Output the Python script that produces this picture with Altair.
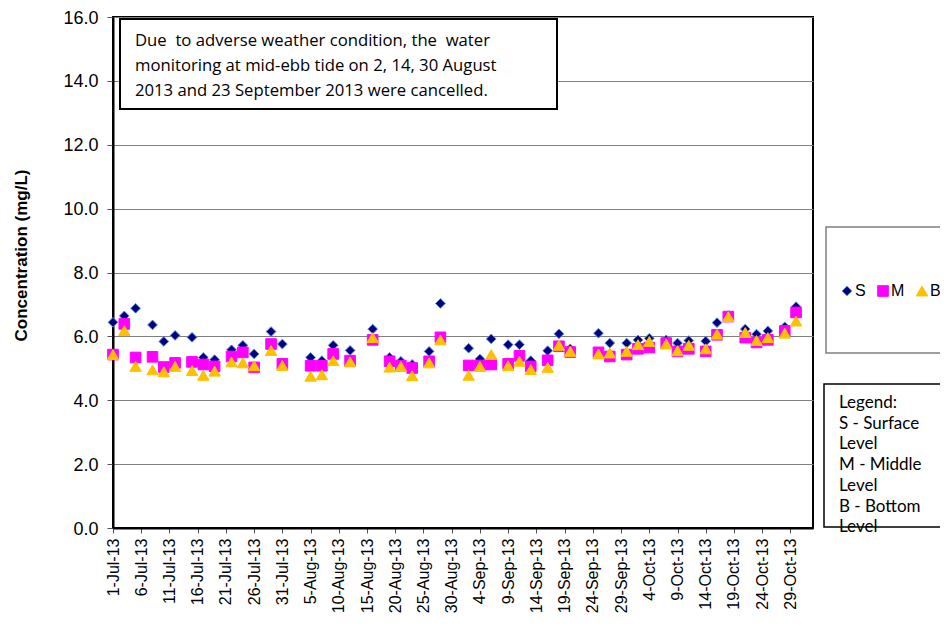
import altair as alt
import pandas as pd

# ---- data ----
dates = [
    "2013-07-01", "2013-07-03", "2013-07-05", "2013-07-08", "2013-07-10", "2013-07-12",
    "2013-07-15", "2013-07-17", "2013-07-19", "2013-07-22", "2013-07-24", "2013-07-26",
    "2013-07-29", "2013-07-31", "2013-08-05", "2013-08-07", "2013-08-09", "2013-08-12",
    "2013-08-16", "2013-08-19", "2013-08-21", "2013-08-23", "2013-08-26", "2013-08-28",
    "2013-09-02", "2013-09-04", "2013-09-06", "2013-09-09", "2013-09-11", "2013-09-13",
    "2013-09-16", "2013-09-18", "2013-09-20", "2013-09-25", "2013-09-27", "2013-09-30",
    "2013-10-02", "2013-10-04", "2013-10-07", "2013-10-09", "2013-10-11", "2013-10-14",
    "2013-10-16", "2013-10-18", "2013-10-21", "2013-10-23", "2013-10-25", "2013-10-28",
    "2013-10-30",
]
surface = [
    6.44, 6.64, 6.88, 6.36, 5.84, 6.03, 5.97, 5.34, 5.27, 5.58, 5.72, 5.45,
    6.15, 5.76, 5.34, 5.24, 5.72, 5.56, 6.23, 5.34, 5.22, 5.12, 5.53, 7.03,
    5.63, 5.29, 5.92, 5.74, 5.74, 5.24, 5.55, 6.08, 5.61, 6.10, 5.79, 5.79,
    5.89, 5.94, 5.89, 5.79, 5.87, 5.85, 6.43, 6.65, 6.23, 6.07, 6.17, 6.30,
    6.93,
]
middle = [
    5.43, 6.39, 5.34, 5.36, 5.04, 5.17, 5.20, 5.12, 5.06, 5.37, 5.50, 5.03,
    5.76, 5.14, 5.08, 5.08, 5.45, 5.24, 5.89, 5.22, 5.08, 5.01, 5.22, 5.97,
    5.09, 5.09, 5.12, 5.14, 5.39, 5.06, 5.25, 5.69, 5.51, 5.50, 5.37, 5.43,
    5.61, 5.65, 5.79, 5.53, 5.61, 5.53, 6.05, 6.62, 5.96, 5.81, 5.89, 6.17,
    6.75,
]
bottom = [
    5.43, 6.18, 5.06, 4.95, 4.89, 5.06, 4.93, 4.78, 4.91, 5.20, 5.17, 5.08,
    5.56, 5.09, 4.75, 4.80, 5.24, 5.20, 5.96, 5.04, 5.06, 4.77, 5.17, 5.89,
    4.78, 5.06, 5.43, 5.08, 5.22, 4.96, 5.03, 5.72, 5.53, 5.45, 5.48, 5.53,
    5.74, 5.84, 5.76, 5.55, 5.72, 5.61, 6.07, 6.62, 6.12, 5.87, 5.96, 6.10,
    6.48,
]
series_names = ["S", "M", "B"]
series_fill = ["#000080", "#FF00FF", "#FFC000"]
series_stroke = ["#5B8FD0", "#FF00FF", "#FFC000"]
series_shape = ["diamond", "square", "triangle-up"]
series_size = [95, 130, 130]

tick_dates = [
    "2013-07-01", "2013-07-06", "2013-07-11", "2013-07-16", "2013-07-21", "2013-07-26",
    "2013-07-31", "2013-08-05", "2013-08-10", "2013-08-15", "2013-08-20", "2013-08-25",
    "2013-08-30", "2013-09-04", "2013-09-09", "2013-09-14", "2013-09-19", "2013-09-24",
    "2013-09-29", "2013-10-04", "2013-10-09", "2013-10-14", "2013-10-19", "2013-10-24",
    "2013-10-29",
]
y_ticks = [0, 2, 4, 6, 8, 10, 12, 14, 16]
x_domain = ["2013-07-01", "2013-11-02"]

note_lines = [
    "Due\u00a0 to adverse weather condition, the\u00a0 water",
    "monitoring at mid-ebb tide on 2, 14, 30 August",
    "2013 and 23 September 2013 were cancelled.",
]
legend_lines = ["Legend:", "S - Surface", "Level", "M - Middle", "Level", "B - Bottom", "Level"]

# ---- build table ----
rows = []
for name, vals in zip(series_names, [surface, middle, bottom]):
    for d, v in zip(dates, vals):
        rows.append({"date": d, "value": v, "series": name})
df = pd.DataFrame(rows)


def ms(d):
    return int(pd.Timestamp(d, tz="UTC").timestamp() * 1000)


tick_ms = [ms(d) for d in tick_dates]
dom_ms = [ms(d) for d in x_domain]

# plot area: page x 113..813, y ~17..528
TOP = 9
W, H = 700, 511
FONT = "Liberation Sans"
NOTE_FONT = "Open Sans"
BOX_FONT = "Lato"
dy = 13 - (8 + TOP)  # shift for annotation offsets measured from y=13

leg = alt.Legend(
    title=None, orient="none", direction="horizontal", legendX=726, legendY=270 + dy,
    labelFont=FONT, labelFontSize=16, labelColor="black", labelOffset=0,
    columnPadding=9, symbolStrokeWidth=1, padding=0,
)

points = alt.Chart(df).mark_point(filled=True, opacity=1, strokeWidth=1).encode(
    x=alt.X(
        "date:T",
        scale=alt.Scale(type="utc", domain=dom_ms),
        axis=alt.Axis(
            values=tick_ms, labelExpr="utcFormat(datum.value, '%-d-%b-%y')",
            labelAngle=-90, labelFontSize=16, labelFont=FONT, labelColor="black",
            labelPadding=5, tickSize=5, tickColor="#555555", grid=False,
            domainColor="black", domainWidth=2, title=None, labelOverlap=False,
            labelBound=False, labelFlush=False,
        ),
    ),
    y=alt.Y(
        "value:Q",
        scale=alt.Scale(domain=[0, 16], nice=False),
        axis=alt.Axis(
            values=y_ticks, format=".1f", labelFontSize=18, labelFont=FONT,
            labelColor="black", labelPadding=9, labelOffset=1, tickSize=6,
            tickColor="#555555", grid=True, gridColor="#808080", gridWidth=1,
            domainColor="black", domainWidth=2,
            title="Concentration (mg/L)", titleFont=FONT, titleFontSize=17,
            titleFontWeight="bold", titleColor="black", titleAngle=-90,
            titleX=-92, titleY=242 + dy, titleAlign="center", titleBaseline="middle",
            labelFlush=False,
        ),
    ),
    color=alt.Color("series:N", scale=alt.Scale(domain=series_names, range=series_fill), legend=leg),
    stroke=alt.Stroke("series:N", scale=alt.Scale(domain=series_names, range=series_stroke), legend=leg),
    shape=alt.Shape("series:N", scale=alt.Scale(domain=series_names, range=series_shape), legend=leg),
    size=alt.Size("series:N", scale=alt.Scale(domain=series_names, range=series_size), legend=leg),
)

# note box
note_box = alt.Chart().mark_rect(fill="white", stroke="black", strokeWidth=2).encode(
    x=alt.value(7), x2=alt.value(444), y=alt.value(6 + dy), y2=alt.value(96 + dy)
)
note_text = alt.Chart().mark_text(
    text=note_lines, font=NOTE_FONT, fontSize=16.7, color="black", align="left",
    baseline="middle", lineHeight=25,
).encode(x=alt.value(22), y=alt.value(27.5 + dy))

# legend box (series)
legbox = alt.Chart().mark_rect(fill="white", fillOpacity=0, stroke="#808080", strokeWidth=1.5).encode(
    x=alt.value(713), x2=alt.value(900), y=alt.value(214 + dy), y2=alt.value(340 + dy)
)
# legend text box
legbox2 = alt.Chart().mark_rect(fill="white", fillOpacity=0, stroke="black", strokeWidth=1.5).encode(
    x=alt.value(711), x2=alt.value(900), y=alt.value(371 + dy), y2=alt.value(514 + dy)
)
leg_text = alt.Chart().mark_text(
    text=legend_lines, font=BOX_FONT, fontSize=17, color="black", align="left",
    baseline="middle", lineHeight=20.7,
).encode(x=alt.value(726), y=alt.value(390 + dy))

chart = alt.layer(note_box, note_text, legbox, legbox2, leg_text, points).properties(
    width=W, height=H,
    autosize=alt.AutoSizeParams(type="none"),
    padding={"left": 105, "top": TOP, "right": 127, "bottom": 90},
).configure(background="white").configure_view(stroke="black", strokeWidth=2)

chart.save("out.html", embed_options={"renderer": "svg", "actions": False})
